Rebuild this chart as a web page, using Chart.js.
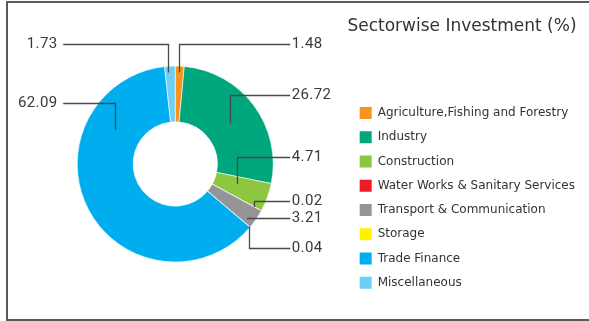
<!DOCTYPE html>
<html>
  <head>
    <meta charset="utf-8" />
    <title>Sectorwise Investment</title>
    <style>
      html, body { margin: 0; padding: 0; background: #fff; }
      .wrap { position: relative; width: 589px; height: 321px; overflow: hidden; }
      .frame {
        position: absolute; left: 6px; top: 1px; width: 640px; height: 316px;
        border: 2px solid #5a5a5a; border-right: none; pointer-events: none;
      }
      canvas { position: absolute; left: 0; top: 0; }
    </style>
  </head>
  <body>
    <div class="wrap">
      <canvas id="sectorChart" width="589" height="321"></canvas>
      <div class="frame"></div>
    </div>

    <script src="https://cdn.jsdelivr.net/npm/chart.js@4/dist/chart.umd.min.js"></script>
    <script>
      // sector shares (%)
      var sectors = [
        "Agriculture,Fishing and Forestry",
        "Industry",
        "Construction",
        "Water Works & Sanitary Services",
        "Transport & Communication",
        "Storage",
        "Trade Finance",
        "Miscellaneous",
      ];
      var shares = [1.48, 26.72, 4.71, 0.02, 3.21, 0.04, 62.09, 1.73];
      var colors = [
        "#F7941D",
        "#00A67C",
        "#8DC63F",
        "#ED1C24",
        "#939598",
        "#FFF200",
        "#00AEEF",
        "#6DCFF6",
      ];

      // callout lines: where the line starts inside each slice
      // (fraction along the arc, fraction across the ring),
      // label height relative to the centre, and side
      var callouts = [
        { along: 0.5, across: 0.89, dy: -120, side: 1 },
        { along: 0.5, across: 0.46, dy: -69, side: 1 },
        { along: 0.38, across: 0.41, dy: -7, side: 1 },
        { along: 0.5, across: 0.86, dy: 37, side: 1 },
        { along: 0.72, across: 0.86, dy: 54, side: 1 },
        { along: 0.5, across: 0.98, dy: 84, side: 1 },
        { along: 0.757, across: 0.48, dy: -61, side: -1 },
        { along: 0.3, across: 0.89, dy: -120, side: -1 },
      ];

      var calloutPlugin = {
        id: "callouts",
        afterDatasetsDraw: function (chart) {
          var ctx = chart.ctx;
          var arcs = chart.getDatasetMeta(0).data;
          ctx.save();
          ctx.strokeStyle = "#4a4a4a";
          ctx.lineWidth = 1.3;
          ctx.fillStyle = "#3a3a3a";
          ctx.font = "15px Roboto";
          ctx.letterSpacing = "0.4px";
          ctx.textBaseline = "middle";
          arcs.forEach(function (arc, i) {
            var c = callouts[i];
            var a = arc.startAngle + (arc.endAngle - arc.startAngle) * c.along;
            var r = arc.innerRadius + (arc.outerRadius - arc.innerRadius) * c.across;
            var px = arc.x + Math.cos(a) * r;
            var py = arc.y + Math.sin(a) * r;
            var ly = Math.round(arc.y + c.dy) + 0.5;
            var ex = c.side > 0 ? arc.x + 115 : arc.x - 112;
            ctx.beginPath();
            ctx.moveTo(Math.round(px) + 0.5, py);
            ctx.lineTo(Math.round(px) + 0.5, ly);
            ctx.lineTo(ex, ly);
            ctx.stroke();
            ctx.textAlign = c.side > 0 ? "left" : "right";
            ctx.fillText(shares[i].toFixed(2), ex + (c.side > 0 ? 1.5 : -5.6), ly);
          });
          ctx.restore();
        },
      };

      var ctx = document.getElementById("sectorChart");
      var sectorChart = new Chart(ctx, {
        type: "doughnut",
        data: {
          labels: sectors,
          datasets: [
            {
              data: shares,
              backgroundColor: colors,
              borderColor: "#ffffff",
              borderWidth: 0.6,
            },
          ],
        },
        options: {
          responsive: false,
          animation: false,
          radius: 98,
          cutout: "43%",
          layout: { padding: { left: 3, top: 8, right: 4, bottom: 1 } },
          plugins: {
            tooltip: { enabled: false },
            legend: {
              position: "right",
              align: "start",
              title: {
                display: true,
                text: "Sectorwise Investment (%)",
                position: "start",
                color: "#333",
                font: { family: "DejaVu Sans", size: 17, weight: "normal" },
                padding: { top: 10, bottom: 56.4 },
              },
              labels: {
                boxWidth: 12,
                boxHeight: 12,
                padding: 12.25,
                color: "#333",
                font: { family: "DejaVu Sans", size: 12 },
                generateLabels: function (chart) {
                  var items = Chart.controllers.doughnut.overrides.plugins.legend.labels.generateLabels(chart);
                  items.forEach(function (it) {
                    it.lineWidth = 0;
                  });
                  return items;
                },
              },
              onClick: null,
            },
          },
        },
        plugins: [calloutPlugin],
      });
    </script>
  </body>
</html>
